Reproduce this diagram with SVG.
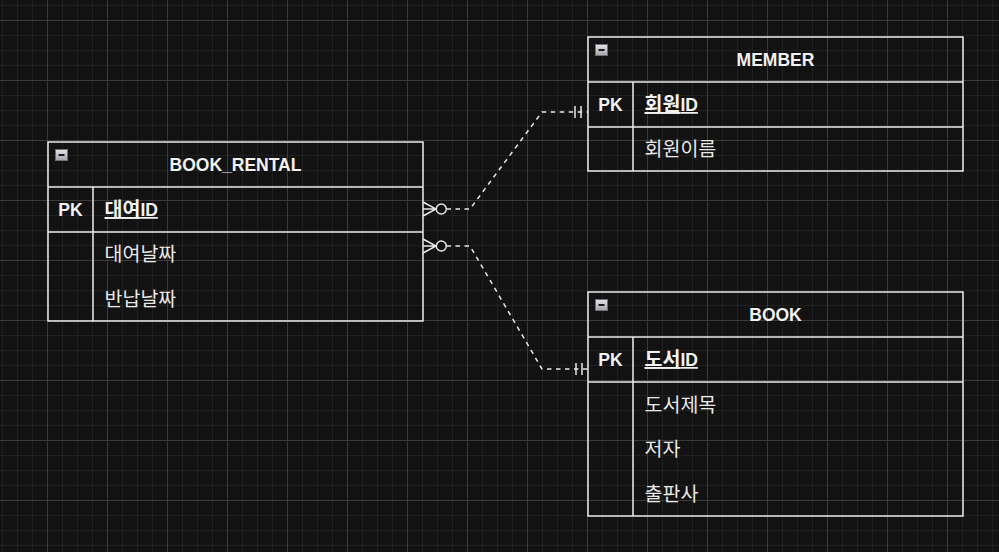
<svg xmlns="http://www.w3.org/2000/svg" width="999" height="552" viewBox="0 0 999 552">
  <defs>
    <pattern id="grid" patternUnits="userSpaceOnUse" x="47" y="20" width="60" height="60">
      <rect x="0" y="0" width="60" height="60" fill="#121212"/>
      <rect x="15" y="0" width="1" height="60" fill="#202020"/>
      <rect x="30" y="0" width="1" height="60" fill="#202020"/>
      <rect x="45" y="0" width="1" height="60" fill="#202020"/>
      <rect x="0" y="15" width="60" height="1" fill="#202020"/>
      <rect x="0" y="30" width="60" height="1" fill="#202020"/>
      <rect x="0" y="45" width="60" height="1" fill="#202020"/>
      <rect x="0" y="0" width="1" height="60" fill="#3a3a3a"/>
      <rect x="0" y="0" width="60" height="1" fill="#3a3a3a"/>
    </pattern>
    <linearGradient id="iconGrad" x1="0" y1="0" x2="0" y2="1">
      <stop offset="0" stop-color="#e4e4e8"/>
      <stop offset="1" stop-color="#a4a4ac"/>
    </linearGradient>
  </defs>
  <style>
    .box { fill: none; stroke: #ececec; stroke-width: 1.5; }
    .ln { stroke: #ececec; stroke-width: 1.5; fill: none; }
    .hdr { font-family: "Liberation Sans", "Noto Sans CJK KR", sans-serif; font-size: 17.5px; font-weight: bold; fill: #f2f2f2; text-anchor: middle; }
    .pk { font-family: "Liberation Sans", "Noto Sans CJK KR", sans-serif; font-size: 17.5px; font-weight: bold; fill: #f2f2f2; text-anchor: middle; }
    .key { font-family: "Liberation Sans", "Noto Sans CJK KR", sans-serif; font-size: 17.5px; font-weight: bold; fill: #f2f2f2; text-decoration: underline; }
    .attr { font-family: "Liberation Sans", "Noto Sans CJK KR", sans-serif; font-size: 19.5px; fill: #e8e8e8; }
    .ko { font-size: 19.5px; }
    .icon { fill: url(#iconGrad); stroke: #707078; stroke-width: 1; }
    .minus { stroke: #1a1a1a; stroke-width: 2; }
    .dash { fill: none; stroke: #e8e8e8; stroke-width: 1.5; stroke-dasharray: 4.5 4.5; }
    .mk { fill: none; stroke: #e8e8e8; stroke-width: 1.5; }
    .circ { fill: #121212; stroke: #e8e8e8; stroke-width: 1.5; }
  </style>

  <rect x="0" y="0" width="999" height="552" fill="url(#grid)"/>

  <g id="connectors">
    <!-- BOOK_RENTAL -> MEMBER -->
    <path class="dash" d="M446.5 209 L470 209 L542 112 L588 112"/>
    <path class="mk" d="M423 202 L436 209 L423 216 M423 209 L436 209"/>
    <circle class="circ" cx="441.3" cy="209" r="5"/>
    <path class="mk" d="M575 106 L575 118 M581 106 L581 118"/>
    <!-- BOOK_RENTAL -> BOOK -->
    <path class="dash" d="M446.5 246 L470 246 L542 369 L588 369"/>
    <path class="mk" d="M423 239 L436 246 L423 253 M423 246 L436 246"/>
    <circle class="circ" cx="441.3" cy="246" r="5"/>
    <path class="mk" d="M576 363 L576 375 M582 363 L582 375"/>
  </g>

  <g id="book_rental">
    <rect class="box" x="48" y="142" width="375" height="179"/>
    <line class="ln" x1="48" y1="187" x2="423" y2="187"/>
    <line class="ln" x1="48" y1="232" x2="423" y2="232"/>
    <line class="ln" x1="93" y1="187" x2="93" y2="321"/>
    <rect class="icon" x="55.5" y="149.5" width="12" height="11"/>
    <line class="minus" x1="58.5" y1="155" x2="64.5" y2="155"/>
    <text class="hdr" x="235.5" y="171">BOOK_RENTAL</text>
    <text class="pk" x="70.5" y="216">PK</text>
    <text class="key" x="104.5" y="216"><tspan class="ko">대여</tspan>ID</text>
    <text class="attr" x="104.5" y="260.5">대여날짜</text>
    <text class="attr" x="104.5" y="305.5">반납날짜</text>
  </g>

  <g id="member">
    <rect class="box" x="588" y="37" width="375" height="134"/>
    <line class="ln" x1="588" y1="82" x2="963" y2="82"/>
    <line class="ln" x1="588" y1="127" x2="963" y2="127"/>
    <line class="ln" x1="633" y1="82" x2="633" y2="171"/>
    <rect class="icon" x="595.5" y="44.5" width="12" height="11"/>
    <line class="minus" x1="598.5" y1="50" x2="604.5" y2="50"/>
    <text class="hdr" x="775.5" y="66">MEMBER</text>
    <text class="pk" x="610.5" y="111">PK</text>
    <text class="key" x="644.5" y="111"><tspan class="ko">회원</tspan>ID</text>
    <text class="attr" x="644.5" y="156">회원이름</text>
  </g>

  <g id="book">
    <rect class="box" x="588" y="292" width="375" height="224"/>
    <line class="ln" x1="588" y1="337" x2="963" y2="337"/>
    <line class="ln" x1="588" y1="382" x2="963" y2="382"/>
    <line class="ln" x1="633" y1="337" x2="633" y2="516"/>
    <rect class="icon" x="595.5" y="299.5" width="12" height="11"/>
    <line class="minus" x1="598.5" y1="305" x2="604.5" y2="305"/>
    <text class="hdr" x="775.5" y="321">BOOK</text>
    <text class="pk" x="610.5" y="366">PK</text>
    <text class="key" x="644.5" y="366"><tspan class="ko">도서</tspan>ID</text>
    <text class="attr" x="644.5" y="411.5">도서제목</text>
    <text class="attr" x="644.5" y="455.5">저자</text>
    <text class="attr" x="644.5" y="501">출판사</text>
  </g>
</svg>
